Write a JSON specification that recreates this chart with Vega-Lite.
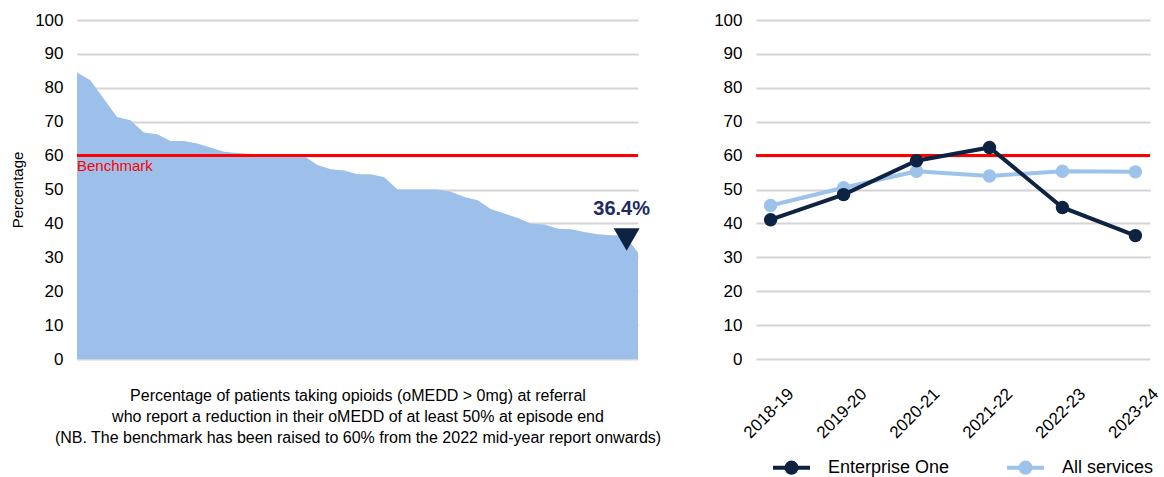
{
  "$schema": "https://vega.github.io/schema/vega-lite/v6.json",
  "padding": {"left": 10, "top": 11, "right": 5, "bottom": 0},
  "background": "white",
  "bounds": "flush",
  "spacing": 118,
  "resolve": {"legend": {"color": "independent"}, "scale": {"color": "independent"}},
  "config": {
    "font": "Liberation Sans",
    "view": {"stroke": null},
    "axis": {
      "labelFont": "Liberation Sans",
      "labelFontSize": 17,
      "labelColor": "#000000",
      "labelOverlap": false,
      "titleFont": "Liberation Sans",
      "titleColor": "#000000",
      "titleFontWeight": "normal",
      "domain": false,
      "ticks": false,
      "gridColor": "#d4d4d4",
      "gridWidth": 2
    },
    "legend": {
      "labelFont": "Liberation Sans",
      "labelFontSize": 18,
      "labelColor": "#000000"
    }
  },
  "hconcat": [
    {
      "width": 561,
      "height": 339,
      "data": {"values": [
        {"i": 0, "value": 84.5}, {"i": 1, "value": 82.2}, {"i": 2, "value": 76.8}, {"i": 3, "value": 71.4},
        {"i": 4, "value": 70.4}, {"i": 5, "value": 66.8}, {"i": 6, "value": 66.3}, {"i": 7, "value": 64.3},
        {"i": 8, "value": 64.3}, {"i": 9, "value": 63.6}, {"i": 10, "value": 62.4}, {"i": 11, "value": 61.1},
        {"i": 12, "value": 60.8}, {"i": 13, "value": 60.5}, {"i": 14, "value": 60.4}, {"i": 15, "value": 60.3},
        {"i": 16, "value": 60.2}, {"i": 17, "value": 59.9}, {"i": 18, "value": 57.2}, {"i": 19, "value": 56.0},
        {"i": 20, "value": 55.6}, {"i": 21, "value": 54.5}, {"i": 22, "value": 54.5}, {"i": 23, "value": 53.6},
        {"i": 24, "value": 50.0}, {"i": 25, "value": 50.0}, {"i": 26, "value": 50.0}, {"i": 27, "value": 50.0},
        {"i": 28, "value": 49.3}, {"i": 29, "value": 47.8}, {"i": 30, "value": 46.8}, {"i": 31, "value": 44.2},
        {"i": 32, "value": 42.9}, {"i": 33, "value": 41.6}, {"i": 34, "value": 39.9}, {"i": 35, "value": 39.7},
        {"i": 36, "value": 38.4}, {"i": 37, "value": 38.3}, {"i": 38, "value": 37.5}, {"i": 39, "value": 36.8},
        {"i": 40, "value": 36.5}, {"i": 41, "value": 36.4}, {"i": 42, "value": 31.4}
      ]},
      "layer": [
        {
          "mark": {"type": "area", "color": "#9dc0ea", "opacity": 1},
          "encoding": {
            "x": {"field": "i", "type": "quantitative", "scale": {"domain": [0, 42], "nice": false, "zero": false},
              "axis": {"labels": false, "grid": false,
                "title": ["Percentage of patients taking opioids (oMEDD > 0mg) at referral", "who report a reduction in their oMEDD of at least 50% at episode end", "(NB. The benchmark has been raised to 60% from the 2022 mid-year report onwards)"],
                "titleFontSize": 16, "titleLineHeight": 21, "titlePadding": 28}},
            "y": {"field": "value", "type": "quantitative", "scale": {"domain": [0, 100]},
              "axis": {"values": [0, 10, 20, 30, 40, 50, 60, 70, 80, 90, 100], "title": "Percentage", "titleFontSize": 15, "titlePadding": 9, "labelPadding": 14}}
          }
        },
        {
          "data": {"values": [{"benchmark": 60, "start": 0, "label": "Benchmark"}]},
          "layer": [
            {
              "mark": {"type": "rule", "color": "#ff0000", "strokeWidth": 3},
              "encoding": {"y": {"field": "benchmark", "type": "quantitative",
                "axis": {"values": [0, 10, 20, 30, 40, 50, 60, 70, 80, 90, 100], "title": "Percentage", "titleFontSize": 15, "titlePadding": 9, "labelPadding": 14}}}
            },
            {
              "mark": {"type": "text", "color": "#ff0000", "fontSize": 15, "align": "left", "baseline": "top", "dy": 3},
              "encoding": {
                "x": {"field": "start", "type": "quantitative"},
                "y": {"field": "benchmark", "type": "quantitative",
                  "axis": {"values": [0, 10, 20, 30, 40, 50, 60, 70, 80, 90, 100], "title": "Percentage", "titleFontSize": 15, "titlePadding": 9, "labelPadding": 14}},
                "text": {"field": "label"}
              }
            }
          ]
        },
        {
          "data": {"values": [{"i": 41, "value": 36.4, "label": "36.4%"}]},
          "layer": [
            {
              "mark": {"type": "point", "shape": "triangle-down", "filled": true, "size": 676, "color": "#0d2341", "opacity": 1, "yOffset": 4, "xOffset": 2},
              "encoding": {"x": {"field": "i", "type": "quantitative"},
                "y": {"field": "value", "type": "quantitative",
                  "axis": {"values": [0, 10, 20, 30, 40, 50, 60, 70, 80, 90, 100], "title": "Percentage", "titleFontSize": 15, "titlePadding": 9, "labelPadding": 14}}}
            },
            {
              "mark": {"type": "text", "fontSize": 20, "fontWeight": "bold", "color": "#222a60", "dy": -27, "dx": -3},
              "encoding": {"x": {"field": "i", "type": "quantitative"},
                "y": {"field": "value", "type": "quantitative",
                  "axis": {"values": [0, 10, 20, 30, 40, 50, 60, 70, 80, 90, 100], "title": "Percentage", "titleFontSize": 15, "titlePadding": 9, "labelPadding": 14}},
                "text": {"field": "label"}}
            }
          ]
        }
      ]
    },
    {
      "width": 394,
      "height": 339,
      "layer": [
        {
          "data": {"values": [{"benchmark": 60}]},
          "mark": {"type": "rule", "color": "#ff0000", "strokeWidth": 3},
          "encoding": {"y": {"field": "benchmark", "type": "quantitative", "scale": {"domain": [0, 100]},
            "axis": {"values": [0, 10, 20, 30, 40, 50, 60, 70, 80, 90, 100], "title": null, "labelPadding": 14}}}
        },
        {
          "data": {"values": [
            {"year": "2018-19", "series": "All services", "value": 45.3},
            {"year": "2019-20", "series": "All services", "value": 50.5},
            {"year": "2020-21", "series": "All services", "value": 55.4},
            {"year": "2021-22", "series": "All services", "value": 54.0},
            {"year": "2022-23", "series": "All services", "value": 55.4},
            {"year": "2023-24", "series": "All services", "value": 55.2},
            {"year": "2018-19", "series": "Enterprise One", "value": 41.1},
            {"year": "2019-20", "series": "Enterprise One", "value": 48.5},
            {"year": "2020-21", "series": "Enterprise One", "value": 58.5},
            {"year": "2021-22", "series": "Enterprise One", "value": 62.4},
            {"year": "2022-23", "series": "Enterprise One", "value": 44.7},
            {"year": "2023-24", "series": "Enterprise One", "value": 36.4}
          ]},
          "encoding": {
            "x": {"field": "year", "type": "ordinal", "scale": {"type": "point", "padding": 0.2},
              "axis": {"title": null, "labelAngle": -45, "labelAlign": "right", "labelBaseline": "middle", "labelPadding": 32, "labelOffset": 20, "grid": false}},
            "y": {"field": "value", "type": "quantitative", "scale": {"domain": [0, 100]},
              "axis": {"values": [0, 10, 20, 30, 40, 50, 60, 70, 80, 90, 100], "title": null, "labelPadding": 14}},
            "color": {"field": "series", "type": "nominal",
              "scale": {"domain": ["Enterprise One", "All services"], "range": ["#0d2341", "#9dc3eb"]},
              "legend": {"orient": "none", "legendX": 24, "legendY": 436, "direction": "horizontal", "title": null,
                "symbolType": "M-2,0H2M-0.55,0A0.55,0.55 0 1,0 0.55,0A0.55,0.55 0 1,0 -0.55,0",
                "symbolSize": 342, "symbolStrokeWidth": 4, "labelOffset": 25, "columnPadding": 49,
                "encode": {"symbols": {"update": {
                  "fill": {"signal": "datum.value === 'Enterprise One' ? '#0d2341' : '#9dc3eb'"},
                  "stroke": {"signal": "datum.value === 'Enterprise One' ? '#0d2341' : '#9dc3eb'"},
                  "strokeWidth": {"value": 4},
                  "opacity": {"value": 1}
                }}}}
            }
          },
          "layer": [
            {
              "transform": [{"filter": "datum.series === 'All services'"}],
              "mark": {"type": "line", "strokeWidth": 4}
            },
            {
              "transform": [{"filter": "datum.series === 'All services'"}],
              "mark": {"type": "point", "filled": true, "size": 180, "opacity": 1}
            },
            {
              "transform": [{"filter": "datum.series === 'Enterprise One'"}],
              "mark": {"type": "line", "strokeWidth": 4}
            },
            {
              "transform": [{"filter": "datum.series === 'Enterprise One'"}],
              "mark": {"type": "point", "filled": true, "size": 180, "opacity": 1}
            }
          ]
        }
      ]
    }
  ]
}
